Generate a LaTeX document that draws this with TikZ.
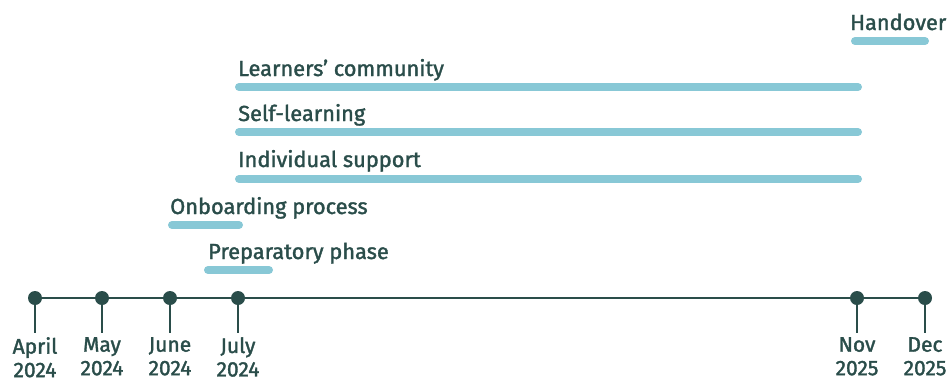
\documentclass[tikz,border=0pt]{standalone}
\usepackage{fontspec}
\setmainfont{Fira Sans}[FakeBold=1.6]
\definecolor{dk}{HTML}{2A4D4A}
\definecolor{bar}{HTML}{88C8D6}
\begin{document}
\begin{tikzpicture}[x=1pt,y=-1pt,
  barline/.style={line width=8pt,line cap=round,draw=bar},
  lbl/.style={anchor=base west,inner sep=0pt,text=dk,font=\fontsize{21.8}{20}\selectfont},
  dot/.style={circle,fill=dk,minimum size=14pt,inner sep=0pt},
  tick/.style={draw=dk,line width=2pt},
  dlbl/.style={anchor=north,inner sep=0pt,text=dk,align=center,font=\fontsize{21}{23.5}\selectfont}]
\useasboundingbox (0,0) rectangle (949,381);
% bars
\coordinate (h1) at (855,41); \coordinate (h2) at (925,41);
\draw[barline] (h1) -- (h2);
\node[lbl] (th) at (850,30) {Handover};
\coordinate (l1) at (239,87); \coordinate (l2) at (858,87);
\draw[barline] (l1) -- (l2);
\node[lbl] (tl) at (238,76) {Learners’ community};
\coordinate (s1) at (239,132); \coordinate (s2) at (858,132);
\draw[barline] (s1) -- (s2);
\node[lbl] (ts) at (238,121) {Self-learning};
\coordinate (i1) at (239,179); \coordinate (i2) at (858,179);
\draw[barline] (i1) -- (i2);
\node[lbl] (ti) at (238,167) {Individual support};
\coordinate (o1) at (172,225); \coordinate (o2) at (239,225);
\draw[barline] (o1) -- (o2);
\node[lbl] (to) at (170,214) {Onboarding process};
\coordinate (p1) at (208,270); \coordinate (p2) at (269,270);
\draw[barline] (p1) -- (p2);
\node[lbl] (tp) at (208,259) {Preparatory phase};
% timeline
\foreach \n/\x in {a/35,b/102,c/170,d/238,e/857,f/925}{
  \coordinate (\n) at (\x,298);
  \coordinate (\n t) at (\x,333);
}
\draw[tick] (a) -- (f);
\foreach \n in {a,b,c,d,e,f}{\draw[tick] (\n) -- (\n t);}
\foreach \n in {a,b,c,d,e,f}{\node[dot] (\n d) at (\n) {};}
\node[dlbl] (la) at (35,337) {April\\2024};
\node[dlbl] (lb) at (102,337) {May\\2024};
\node[dlbl] (lc) at (170,337) {June\\2024};
\node[dlbl] (ld) at (238,337) {July\\2024};
\node[dlbl] (le) at (857,337) {Nov\\2025};
\node[dlbl] (lf) at (925,337) {Dec\\2025};
\end{tikzpicture}
\end{document}
